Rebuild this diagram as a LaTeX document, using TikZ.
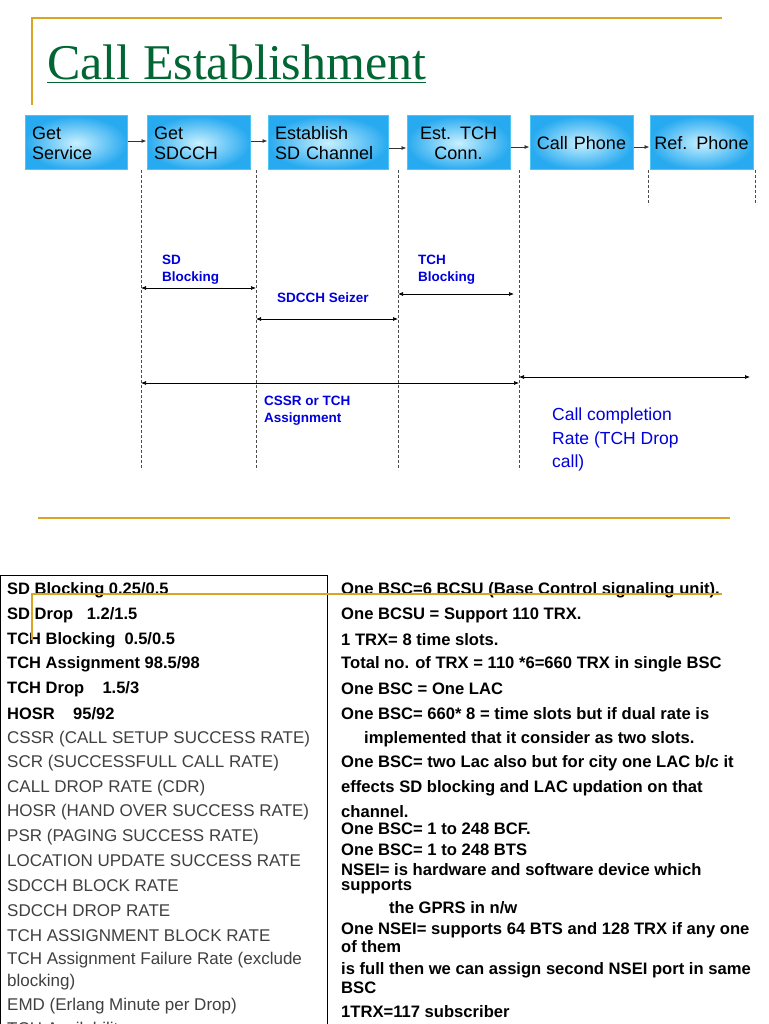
\documentclass[tikz,border=0pt]{standalone}
\usepackage{fontspec}
\setmainfont{Liberation Sans}
\newfontfamily\serifT{Liberation Serif}
\usetikzlibrary{arrows.meta}
\definecolor{gold}{RGB}{218,165,32}
\definecolor{tgreen}{RGB}{0,102,51}
\definecolor{lblue}{RGB}{0,0,220}
\definecolor{boxout}{RGB}{40,170,240}
\definecolor{boxin}{RGB}{200,240,255}
\tikzset{
 stepbox/.style={draw=cyan!70!white,line width=1pt,shading=radial,inner color=boxin,outer color=boxout,minimum height=54pt,align=left,font=\fontsize{18}{20}\selectfont,inner sep=6pt},
 flow/.style={-{Latex[length=5pt,width=4pt]},line width=0.8pt,black!80},
 dim/.style={{Latex[length=5pt,width=4pt]}-{Latex[length=5pt,width=4pt]},line width=0.7pt},
 guide/.style={densely dashed,line width=0.5pt,black!70},
 lab/.style={font=\bfseries\fontsize{13.5}{17}\selectfont,text=lblue,align=left,anchor=north west,inner sep=0pt},
 lt/.style={anchor=west,inner sep=0pt,font=\bfseries\fontsize{16.5}{17}\selectfont},
 lg/.style={anchor=west,inner sep=0pt,font=\fontsize{17}{17}\selectfont,text=black!75},
 rt/.style={anchor=west,inner sep=0pt,font=\bfseries\fontsize{16.6}{17}\selectfont},
}
\begin{document}
\begin{tikzpicture}[x=1pt,y=-1pt]
\useasboundingbox (0,0) rectangle (768,1024);
\fill[white] (0,0) rectangle (768,1024);
\draw[gold,line width=1.5pt] (32,105) -- (32,18) -- (722,18);
\node[anchor=base west,inner sep=0pt,text=tgreen,font=\serifT\fontsize{50}{54}\selectfont] (title) at (47,80) {\underline{Call Establishment}};
% boxes
\node[stepbox,minimum width=102pt,text width=88pt] (b1) at (76,143) {Get\\Service};
\node[stepbox,minimum width=103pt,text width=89pt] (b2) at (198.5,143) {Get\\SDCCH};
\node[stepbox,minimum width=120pt,text width=106pt] (b3) at (328,143) {Establish\\SD Channel};
\node[stepbox,minimum width=103pt,text width=89pt,align=center] (b4) at (458.5,143) {Est. TCH\\Conn.};
\node[stepbox,minimum width=103pt,text width=99pt,align=center,inner sep=2pt] (b5) at (581.5,143) {Call Phone};
\node[stepbox,minimum width=103pt,text width=101pt,align=center,inner sep=1pt] (b6) at (701.5,143) {Ref. Phone};
\draw[flow] (b1.east |- 0,141) -- (b2.west |- 0,141);
\draw[flow] (b2.east |- 0,141) -- (b3.west |- 0,141);
\draw[flow] (b3.east |- 0,148) -- (b4.west |- 0,148);
\draw[flow] (b4.east |- 0,147) -- (b5.west |- 0,147);
\draw[flow] (b5.east |- 0,147) -- (b6.west |- 0,147);
% guides
\foreach \n/\x in {g1/141,g2/256,g3/398,g4/519}{
 \coordinate (\n t) at (\x,170); \coordinate (\n b) at (\x,470);
 \draw[guide] (\n t) -- (\n b);}
\coordinate (g5t) at (648,170); \coordinate (g5b) at (648,205);
\coordinate (g6t) at (755,170); \coordinate (g6b) at (755,205);
\draw[guide] (g5t) -- (g5b); \draw[guide] (g6t) -- (g6b);
% dimension arrows
\coordinate (a1) at (141,288); \coordinate (a2) at (256,288);
\draw[dim] (a1) -- (a2);
\node[lab] (l1) at (162,255) {SD\\Blocking};
\coordinate (c1) at (256,319); \coordinate (c2) at (398,319);
\draw[dim] (c1) -- (c2);
\node[lab] (l2) at (277,293) {SDCCH Seizer};
\coordinate (d1) at (398,294); \coordinate (d2) at (514,294);
\draw[dim] (d1) -- (d2);
\node[lab] (l3) at (418,255) {TCH\\Blocking};
\coordinate (e1) at (141,383); \coordinate (e2) at (519,383);
\draw[dim] (e1) -- (e2);
\node[lab] (l4) at (264,396) {CSSR or TCH\\Assignment};
\coordinate (f1) at (519,377); \coordinate (f2) at (750,377);
\draw[dim] (f1) -- (f2);
\node[anchor=north west,inner sep=0pt,align=left,text=lblue,font=\fontsize{17.5}{23.5}\selectfont] (l5) at (552,408) {Call completion\\Rate (TCH Drop\\call)};
\draw[gold,line width=1.5pt] (38,518) -- (730,518);
% lower box
\draw[line width=0.8pt] (0,575) -- (327,575) -- (327,1030);
\draw[line width=0.8pt] (0,575) -- (0,1030);
\begin{scope}
\clip (0,0) rectangle (768,1024);
\node[lt] at (7,590) {SD Blocking 0.25/0.5};
\node[lt] at (7,615) {SD Drop \ \ 1.2/1.5};
\node[lt] at (7,640) {TCH Blocking \ 0.5/0.5};
\node[lt] at (7,664) {TCH Assignment 98.5/98};
\node[lt] at (7,689) {TCH Drop \ \ \ 1.5/3};
\node[lt] at (7,714) {HOSR \ \ \ 95/92};
\node[lg] at (7,739) {CSSR (CALL SETUP SUCCESS RATE)};
\node[lg] at (7,763) {SCR (SUCCESSFULL CALL RATE)};
\node[lg] at (7,788) {CALL DROP RATE (CDR)};
\node[lg] at (7,812) {HOSR (HAND OVER SUCCESS RATE)};
\node[lg] at (7,837) {PSR (PAGING SUCCESS RATE)};
\node[lg] at (7,861) {LOCATION UPDATE SUCCESS RATE};
\node[lg] at (7,886) {SDCCH BLOCK RATE};
\node[lg] at (7,911) {SDCCH DROP RATE};
\node[lg] at (7,936) {TCH ASSIGNMENT BLOCK RATE};
\node[lg] at (7,960) {TCH Assignment Failure Rate (exclude};
\node[lg] at (7,982) {blocking)};
\node[lg] at (7,1006) {EMD (Erlang Minute per Drop)};
\node[lg] at (7,1030) {TCH Availability};
\end{scope}
\node[rt] at (341,590) {One BSC=6 BCSU (Base Control signaling unit).};
\node[rt] at (341,615) {One BCSU = Support 110 TRX.};
\node[rt] at (341,640) {1 TRX= 8 time slots.};
\node[rt] at (341,664) {Total no. of TRX = 110 *6=660 TRX in single BSC};
\node[rt] at (341,689) {One BSC = One LAC};
\node[rt] at (341,714) {One BSC= 660* 8 = time slots but if dual rate is};
\node[rt] at (364,739) {implemented that it consider as two slots.};
\node[rt] at (341,763) {One BSC= two Lac also but for city one LAC b/c it};
\node[rt] at (341,788) {effects SD blocking and LAC updation on that};
\node[rt] at (341,812) {channel.};
\node[rt] at (341,829) {One BSC= 1 to 248 BCF.};
\node[rt] at (341,850) {One BSC= 1 to 248 BTS};
\node[rt] at (341,870) {NSEI= is hardware and software device which};
\node[rt] at (341,887) {supports};
\node[rt] at (389,908) {the GPRS in n/w};
\node[rt] at (341,930) {One NSEI= supports 64 BTS and 128 TRX if any one};
\node[rt] at (341,947) {of them};
\node[rt] at (341,970) {is full then we can assign second NSEI port in same};
\node[rt] at (341,988) {BSC};
\node[rt] at (341,1012) {1TRX=117 subscriber};
\draw[gold,line width=1.2pt] (32,640) -- (32,594) -- (722,594);
\end{tikzpicture}
\end{document}
